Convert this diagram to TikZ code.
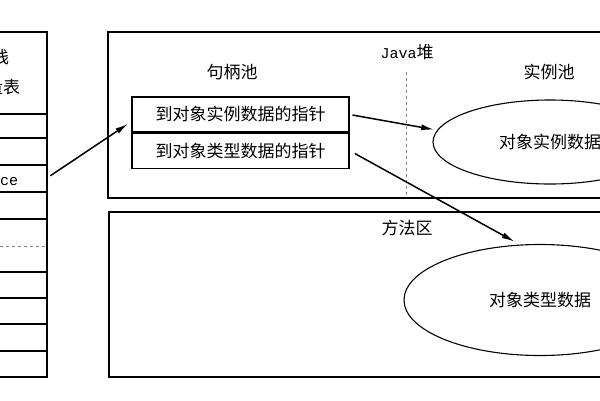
\documentclass[tikz,border=0pt]{standalone}
\usepackage{fontspec}
\setmainfont{Noto Sans CJK SC}
\setmonofont{Liberation Mono}
\usetikzlibrary{arrows.meta, shapes.geometric, positioning}

\begin{document}
\begin{tikzpicture}[x = 1pt, y = -1pt, > = {Latex[length = 13pt, width = 6pt]}, line width = 1.1pt,
	font = \fontsize{17}{20}\selectfont,
	mono/.style = {font = \fontsize{15}{18}\ttfamily},
	ptr/.style = {draw, minimum width = 217pt, minimum height = 35pt, inner sep = 0pt},
	pool/.style = {draw, ellipse, inner sep = 0pt},
	link/.style = {->, line width = 1.5pt}]

	% Frame
	
	\useasboundingbox (0, 0) rectangle (600, 400);
	\clip (0, 0) rectangle (600, 400);
	
	% Definition
	
	\def\Sl{-60}	% Left edge of stack (cut off)
	\def\Sr{47}		% Right edge of stack
	
	% Stack + local variable table
	
	\draw (\Sl, 32) rectangle (\Sr, 377);
	
	\foreach \Y in {114, 138, 165, 192, 219, 272, 298, 324, 351}
	{
		\draw (\Sl, \Y) -- (\Sr, \Y);
	}
	
	\draw [gray, dashed, thin] (\Sl, 246) -- (\Sr, 246);
	
	\node [anchor = east] (stack) at (13, 57) {Java栈};
	\node [anchor = east] (table) at (24, 87) {本地变量表};
	\node [anchor = east, mono] (reftext) at (22, 180) {reference};
	\coordinate (ref) at (\Sr, 178);
	
	% Java heap
	
	\draw (108, 32) rectangle (650, 198);
	\node (heap) at (407, 52) {{\fontsize{15}{18}\ttfamily Java}堆};
	\draw [gray, dashed, line width = 0.8pt] (406, 72) -- (406, 198);
	
	% Handle pool
	
	\node (handles) at (232, 72) {句柄池};
	\node [ptr] (h1) at (240.5, 114.5) {到对象实例数据的指针};
	\node [ptr, below = 0pt of h1] (h2) {到对象类型数据的指针};
	
	% Instance pool
	
	\node (instances) at (549, 72) {实例池};
	\node [pool, minimum width = 234pt, minimum height = 84pt] (inst) at (550, 142) {对象实例数据};
	
	% Method area
	
	\draw (109, 212) rectangle (650, 377);
	\node (method) at (407, 228) {方法区};
	\node [pool, minimum width = 272pt, minimum height = 111pt] (type) at (540, 300) {对象类型数据};
	
	% Pointers
	
	\draw [link, shorten < = 4pt, shorten > = 4pt] (ref) -- ([yshift = -7pt] h1.west);
	\draw [link, shorten < = 3pt, shorten > = 3pt] (h1.east) -- (inst.174);
	\draw [link, shorten < = 6pt, shorten > = 6pt] (h2.east) -- (type.110);

\end{tikzpicture}
\end{document}
